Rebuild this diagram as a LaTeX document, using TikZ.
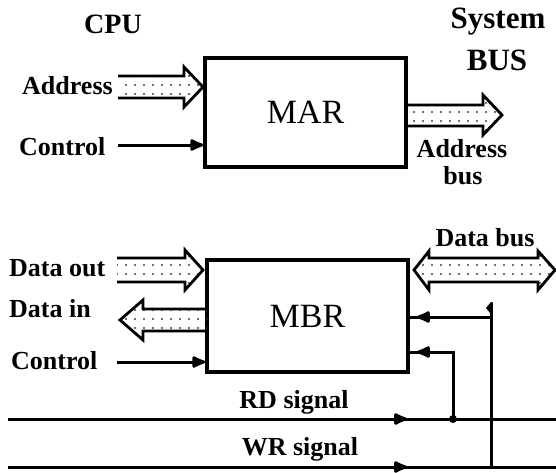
\documentclass[tikz,border=0pt]{standalone}
\usepackage{fontspec}
\setmainfont{Liberation Serif}
\usetikzlibrary{arrows.meta,patterns.meta}

\begin{document}
\begin{tikzpicture}[x=1pt,y=-1pt,
  lbl/.style={font=\fontsize{26}{26}\selectfont\bfseries, inner sep=0pt},
  biglbl/.style={font=\fontsize{31}{31}\selectfont\bfseries, inner sep=0pt},
  reg/.style={draw, line width=3.6pt, inner sep=0pt,
    font=\fontsize{34}{34}\selectfont},
  wire/.style={line width=3pt},
  tip/.style={wire, -{Latex[length=17pt,width=14pt,round]}},
  busfill/.style={pattern={Dots[distance=9pt,radius=1.1pt]}, pattern color=black!75},
  busline/.style={line width=2.8pt, line join=miter}
]
\useasboundingbox (0,0) rectangle (556,472);

% ---------- registers ----------
\node[reg, minimum width=201pt, minimum height=109pt] (MAR) at (305.5,112.5) {MAR};
\node[reg, minimum width=201pt, minimum height=112pt] (MBR) at (307.5,316) {MBR};

% ---------- headings ----------
\node[lbl, font=\fontsize{28}{28}\selectfont\bfseries] (cpu) at (113,24) {CPU};
\node[biglbl] (sys) at (498,22) {System};
\node[biglbl] (bus) at (497,60) {BUS};

% ---------- MAR side ----------
\node[lbl, anchor=west] (addr) at (22,86) {Address};
\node[lbl, anchor=west] (ctlA) at (19,147) {Control};
\node[lbl] (abus) at (462,149) {Address};
\node[lbl] (abus2) at (463,176) {bus};

% address in (open tail)
\fill[busfill] (118,76) -- (184,76) -- (184,67) -- (203,87) -- (184,107) -- (184,98) -- (118,98) -- cycle;
\draw[busline] (118,76) -- (184,76) -- (184,67) -- (203,87) -- (184,107) -- (184,98) -- (118,98);

% address bus out
\fill[busfill] (406,105) -- (483,105) -- (483,95) -- (502,115) -- (483,135) -- (483,126) -- (406,126) -- cycle;
\draw[busline] (406,105) -- (483,105) -- (483,95) -- (502,115) -- (483,135) -- (483,126) -- (406,126);

% control into MAR
\coordinate (cA) at (118,145);
\draw[tip] (cA) -- (cA -| MAR.west);

% ---------- MBR side ----------
\node[lbl, anchor=west] (dout) at (9,268) {Data out};
\node[lbl, anchor=west] (din) at (9,309) {Data in};
\node[lbl, anchor=west] (ctlB) at (11,361) {Control};
\node[lbl] (dbus) at (485,238) {Data bus};
\node[lbl] (rd) at (294,402) {RD signal};
\node[lbl] (wr) at (300,449) {WR signal};

% data out (open tail)
\fill[busfill] (117,258) -- (185,258) -- (185,250) -- (203,270) -- (185,290) -- (185,282) -- (117,282) -- cycle;
\draw[busline] (117,258) -- (185,258) -- (185,250) -- (203,270) -- (185,290) -- (185,282) -- (117,282);

% data in
\fill[busfill] (207,309) -- (143,309) -- (143,300) -- (120,320) -- (143,340) -- (143,331) -- (207,331) -- cycle;
\draw[busline] (207,309) -- (143,309) -- (143,300) -- (120,320) -- (143,340) -- (143,331) -- (207,331);

% data bus, both ways
\fill[busfill] (429,258) -- (538,258) -- (538,251) -- (555,270) -- (538,290) -- (538,282)
  -- (429,282) -- (429,290) -- (414,270) -- (429,251) -- cycle;
\draw[busline] (429,258) -- (538,258) -- (538,251) -- (555,270) -- (538,290) -- (538,282)
  -- (429,282) -- (429,290) -- (414,270) -- (429,251) -- cycle;

% control into MBR
\coordinate (cB) at (117,362);
\draw[tip] (cB) -- (cB -| MBR.west);

% ---------- RD / WR lines ----------
\coordinate (rdL) at (8,419);
\coordinate (rdT) at (407,419);
\coordinate (rdR) at (556,419);
\coordinate (wrL) at (8,467);
\coordinate (wrT) at (407,467);
\coordinate (wrR) at (556,467);
\draw[wire] (rdL) -- (rdR);
\draw[tip] (rdL) -- (rdT);
\draw[wire] (wrL) -- (wrR);
\draw[tip] (wrL) -- (wrT);

% feedback into MBR
\coordinate (vTop) at (491,303);
\coordinate (vBot) at (491,467);
\coordinate (hA) at (491,317);
\coordinate (tA) at (417,317);
\coordinate (jn) at (453,419);
\coordinate (tB) at (417,352);
\draw[wire] (vTop) -- (vBot);
\fill (vTop) ++(-5,5) -- ++(5,-6) -- ++(1.5,0) -- ++(0,14) -- cycle;
\draw[wire] (hA) -- (hA -| MBR.east);
\draw[tip] (hA) -- (tA);
\draw[wire] (jn) |- (tB -| MBR.east);
\draw[tip] (jn) |- (tB);
\fill (jn) circle (4pt);

\end{tikzpicture}
\end{document}
